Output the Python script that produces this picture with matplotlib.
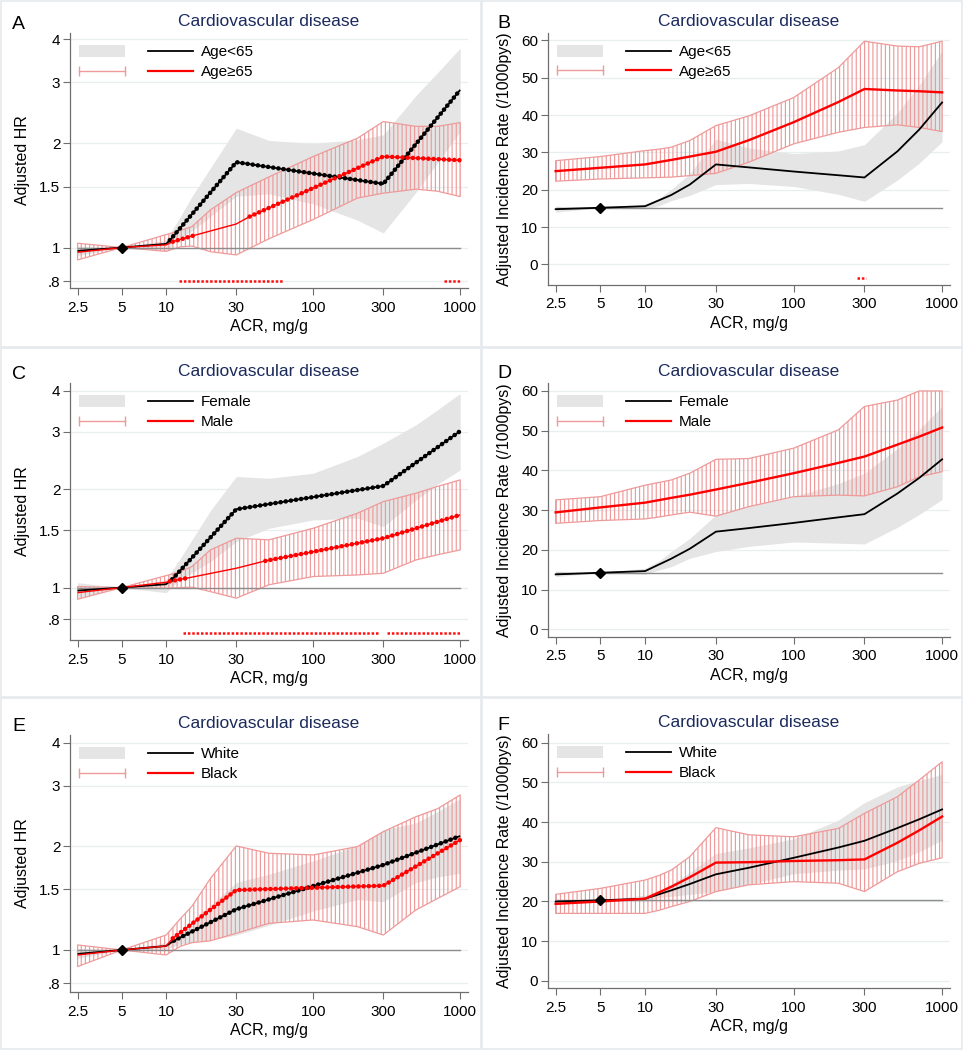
"""Six-panel ACR spline figure: adjusted HR and incidence rate by subgroup."""

import matplotlib

matplotlib.use("Agg")
import matplotlib.pyplot as plt
from matplotlib.legend_handler import HandlerLine2D
from matplotlib.lines import Line2D
from matplotlib.patches import Patch, Rectangle
from matplotlib.ticker import FixedFormatter, FixedLocator, NullLocator

plt.rcParams["font.family"] = ["Liberation Sans", "DejaVu Sans"]
plt.rcParams["hatch.linewidth"] = 0.85

# ---- axis ticks ----
acr_ticks = [2.5, 5, 10, 30, 100, 300, 1000]
acr_labels = ["2.5", "5", "10", "30", "100", "300", "1000"]
hr_ticks = [0.8, 1, 1.5, 2, 3, 4]
hr_labels = [".8", "1", "1.5", "2", "3", "4"]
ir_ticks = [0, 10, 20, 30, 40, 50, 60]

# ACR points where the confidence bands were read
band_acr = [2.5, 5, 10, 12.5, 15, 20, 30, 50, 100, 200, 300, 500, 700, 1000]
# ACR points where the incidence-rate curves were read
ir_acr = [2.5, 5, 10, 15, 20, 30, 50, 100, 200, 300, 500, 700, 1000]

# ---- A: HR by age ----
a_blk_acr = [2.5, 5, 10, 10.6, 30, 300, 1000]
a_blk_hr = [0.978, 1.0, 1.025, 1.05, 1.765, 1.528, 2.856]
a_blk_sig = [(3, 6)]
a_red_acr = [2.5, 5, 10, 11.1, 15.6, 30, 37, 300, 1000]
a_red_hr = [0.969, 1.0, 1.018, 1.04, 1.085, 1.17, 1.229, 1.833, 1.788]
a_red_sig = [(3, 4), (6, 8)]
a_gray_lo = [0.948, 1.0, 0.980, 1.07, 1.117, 1.229, 1.407, 1.43, 1.337, 1.20, 1.102, 1.444, 1.758, 2.165]
a_gray_hi = [1.009, 1.0, 1.052, 1.23, 1.405, 1.697, 2.213, 2.04, 2.0, 2.05, 2.117, 2.75, 3.2, 3.77]
a_pink_lo = [0.921, 1.0, 0.975, 1.005, 1.01, 0.973, 0.952, 1.06, 1.205, 1.39, 1.436, 1.475, 1.455, 1.404]
a_pink_hi = [1.029, 1.0, 1.09, 1.12, 1.15, 1.285, 1.442, 1.60, 1.833, 2.07, 2.313, 2.24, 2.24, 2.297]
a_sig_ranges = [(12.2, 62.4), (772, 1000)]
a_sig_level = 0.8

# ---- B: incidence rate by age ----
b_blk_ir = [14.8, 15.2, 15.6, 18.6, 21.4, 26.8, 26.0, 24.9, 23.9, 23.3, 30.3, 36.1, 43.4]
b_red_ir = [25.0, 25.9, 26.8, 28.0, 28.9, 30.2, 33.3, 38.1, 43.5, 47.0, 46.6, 46.4, 46.1]
b_gray_lo = [14.0, 15.2, 14.9, 15.8, 17.1, 18.5, 21.4, 21.7, 20.9, 18.8, 16.9, 22.6, 27.1, 32.9]
b_gray_hi = [15.6, 15.2, 16.2, 17.8, 20.1, 24.3, 33.6, 31.2, 29.7, 30.4, 32.1, 40.6, 48.0, 57.2]
b_pink_lo = [22.3, 22.9, 23.2, 23.3, 23.4, 23.8, 24.4, 27.4, 32.3, 35.4, 36.7, 37.4, 36.7, 35.6]
b_pink_hi = [27.8, 28.9, 30.5, 30.9, 31.4, 33.2, 37.2, 39.8, 44.7, 52.7, 59.8, 58.5, 58.3, 59.8]
b_ref = 15.2
b_sig_ranges = [(268, 305)]
b_sig_level = -3.5

# ---- C: HR by sex ----
c_blk_acr = [2.5, 5, 10, 11, 30, 300, 1000]
c_blk_hr = [0.979, 1.0, 1.024, 1.06, 1.737, 2.047, 3.014]
c_blk_sig = [(3, 6)]
c_red_acr = [2.5, 5, 10, 10.6, 14.5, 30, 47.3, 300, 1000]
c_red_hr = [0.965, 1.0, 1.038, 1.045, 1.073, 1.146, 1.207, 1.416, 1.669]
c_red_sig = [(3, 4), (6, 8)]
c_gray_lo = [0.93, 1.0, 0.965, 1.06, 1.11, 1.2, 1.383, 1.519, 1.611, 1.631, 1.537, 1.852, 2.07, 2.292]
c_gray_hi = [1.035, 1.0, 1.056, 1.23, 1.40, 1.72, 2.188, 2.161, 2.239, 2.519, 2.767, 3.149, 3.5, 3.93]
c_pink_lo = [0.921, 1.0, 0.995, 1.0, 1.003, 0.972, 0.928, 1.02, 1.081, 1.093, 1.106, 1.215, 1.26, 1.304]
c_pink_hi = [1.007, 1.0, 1.088, 1.12, 1.16, 1.304, 1.416, 1.40, 1.519, 1.689, 1.833, 1.945, 2.04, 2.136]
c_sig_ranges = [(13.1, 282), (318, 1000)]
c_sig_level = 0.728

# ---- D: incidence rate by sex ----
d_blk_ir = [13.85, 14.27, 14.68, 17.8, 20.3, 24.6, 25.5, 26.8, 28.2, 29.0, 34.2, 38.1, 42.8]
d_red_ir = [29.45, 30.7, 31.9, 33.1, 33.9, 35.2, 36.9, 39.3, 41.9, 43.5, 46.5, 48.5, 50.8]
d_gray_lo = [13.3, 14.27, 13.9, 15.0, 15.8, 17.9, 19.6, 20.9, 22.0, 21.7, 21.5, 25.7, 28.9, 32.7]
d_gray_hi = [14.7, 14.27, 15.4, 17.3, 19.6, 22.9, 28.8, 31.1, 33.4, 36.7, 39.3, 45.5, 50.3, 56.1]
d_pink_lo = [26.7, 27.4, 27.8, 28.3, 28.8, 29.5, 28.5, 30.9, 33.4, 33.8, 33.6, 35.9, 38.4, 39.7]
d_pink_hi = [32.6, 33.4, 36.3, 37.0, 37.6, 39.3, 42.8, 43.0, 45.6, 50.2, 56.1, 57.7, 60.0, 60.0]
d_ref = 14.27

# ---- E: HR by race ----
e_blk_acr = [2.5, 5, 10, 11.3, 30, 300, 1000]
e_blk_hr = [0.974, 1.0, 1.027, 1.064, 1.313, 1.766, 2.143]
e_blk_sig = [(3, 6)]
e_red_acr = [2.5, 5, 10, 11.1, 30, 300, 1000]
e_red_hr = [0.967, 1.0, 1.027, 1.081, 1.493, 1.537, 2.087]
e_red_sig = [(3, 6)]
e_gray_lo = [0.946, 1.0, 1.004, 1.04, 1.055, 1.07, 1.105, 1.18, 1.298, 1.40, 1.381, 1.57, 1.63, 1.67]
e_gray_hi = [1.011, 1.0, 1.05, 1.135, 1.21, 1.35, 1.569, 1.66, 1.814, 2.01, 2.23, 2.34, 2.52, 2.75]
e_pink_lo = [0.895, 1.0, 0.967, 1.025, 1.05, 1.063, 1.118, 1.195, 1.222, 1.169, 1.105, 1.307, 1.41, 1.527]
e_pink_hi = [1.034, 1.0, 1.105, 1.232, 1.34, 1.612, 2.005, 1.909, 1.888, 1.996, 2.206, 2.438, 2.57, 2.82]

# ---- F: incidence rate by race ----
f_blk_ir = [19.97, 20.3, 20.7, 22.8, 24.4, 26.85, 28.5, 31.0, 33.6, 35.3, 38.5, 40.7, 43.2]
f_red_ir = [19.4, 20.0, 20.7, 23.7, 26.1, 29.8, 29.9, 30.2, 30.4, 30.6, 34.8, 37.9, 41.4]
f_gray_lo = [19.4, 20.3, 20.1, 21.0, 21.3, 21.8, 22.5, 24.3, 27.0, 27.9, 28.2, 30.3, 32.5, 35.5]
f_gray_hi = [20.6, 20.3, 21.6, 22.7, 24.4, 27.3, 32.1, 33.5, 35.8, 40.5, 44.9, 48.9, 50.5, 52.0]
f_pink_lo = [17.0, 17.0, 17.0, 17.8, 18.7, 20.0, 22.5, 24.2, 25.0, 24.6, 22.5, 27.5, 29.6, 31.0]
f_pink_hi = [21.8, 23.3, 25.4, 26.6, 27.9, 31.3, 38.6, 36.8, 36.3, 38.4, 42.2, 46.4, 50.6, 55.2]
f_ref = 20.3

# ---- style ----
W, H = 963, 1050
GRAY_BAND = "#e5e5e5"
PINK = "#ee9a9a"
NAVY = "#1b2a5c"
GRID = "#e8eff1"
AXIS = "#6e6e6e"
REFLINE = "#8c8c8c"


def add_axes(fig, left, top, right, bottom):
    return fig.add_axes([left / W, 1 - bottom / H, (right - left) / W, (bottom - top) / H])


def style_axes(ax, hr, ylim, ylabel, ylabel_x):
    ax.set_xscale("log")
    if hr:
        ax.set_yscale("log")
    ax.set_xlim(2.22, 1130)
    ax.set_ylim(*ylim)
    ax.xaxis.set_major_locator(FixedLocator(acr_ticks))
    ax.xaxis.set_major_formatter(FixedFormatter(acr_labels))
    ax.xaxis.set_minor_locator(NullLocator())
    if hr:
        ax.yaxis.set_major_locator(FixedLocator(hr_ticks))
        ax.yaxis.set_major_formatter(FixedFormatter(hr_labels))
    else:
        ax.yaxis.set_major_locator(FixedLocator(ir_ticks))
        ax.yaxis.set_major_formatter(FixedFormatter([str(v) for v in ir_ticks]))
    ax.yaxis.set_minor_locator(NullLocator())
    for side in ("top", "right"):
        ax.spines[side].set_visible(False)
    for side in ("left", "bottom"):
        ax.spines[side].set_color(AXIS)
        ax.spines[side].set_linewidth(0.9)
    ax.tick_params(direction="out", length=5, width=0.8, color=AXIS, labelsize=11)
    ax.tick_params(axis="x", pad=4)
    ax.tick_params(axis="y", pad=2)
    ax.yaxis.grid(True, color=GRID, lw=0.9)
    ax.set_axisbelow(True)
    ax.set_xlabel("ACR, mg/g", fontsize=11.5, labelpad=3)
    ax.set_ylabel(ylabel, fontsize=11.5, va="center")
    ax.yaxis.set_label_coords(ylabel_x, 0.5)
    ax.set_title("Cardiovascular disease", fontsize=12.5, color=NAVY, pad=5)


def draw_bands(ax, gray_lo, gray_hi, pink_lo, pink_hi):
    ax.fill_between(band_acr, gray_lo, gray_hi, color=GRAY_BAND, lw=0, zorder=1)
    ax.fill_between(band_acr, pink_lo, pink_hi, facecolor="none", edgecolor=PINK,
                    hatch="||||", lw=0.9, zorder=2)


def draw_ref(ax, ref):
    ax.plot([acr_ticks[0], acr_ticks[-1]], [ref, ref], color=REFLINE, lw=1.0, zorder=3)
    ax.plot([5], [ref], marker="D", ms=4.8, color="black", zorder=7)


def draw_hr_curve(ax, acr, hr, sig, color, lw):
    ax.plot(acr, hr, color=color, lw=lw, zorder=4, solid_capstyle="butt")
    for i0, i1 in sig:
        ax.plot(acr[i0:i1 + 1], hr[i0:i1 + 1], color=color, lw=3.3,
                ls=(0, (0.01, 1.12)), dash_capstyle="round", zorder=5)


def draw_sig_row(ax, ranges, level):
    for x0, x1 in ranges:
        ax.plot([x0, x1], [level, level], color="#ff1010", lw=1.8,
                ls=(0, (1.0, 0.75)), dash_capstyle="butt", zorder=4)


def add_legend(ax, lab1, lab2):
    gray = Patch(facecolor=GRAY_BAND, edgecolor="none")
    cap = Line2D([], [], color=PINK, lw=1.0, marker="|", ms=7, mew=1.0)
    blk = Line2D([], [], color="black", lw=1.3)
    red = Line2D([], [], color="red", lw=1.6)
    ax.legend([gray, cap, blk, red], ["", "", lab1, lab2], ncol=2, loc="upper left",
              bbox_to_anchor=(0.022, 0.952), frameon=False, fontsize=11,
              handlelength=3.0, handleheight=0.8, handletextpad=0.5,
              columnspacing=1.0, labelspacing=0.37, borderpad=0, borderaxespad=0,
              handler_map={cap: HandlerLine2D(numpoints=2, marker_pad=0)})


def hr_panel(fig, box, ylim, blk, red, bands, sig_ranges, sig_level, labels):
    ax = add_axes(fig, *box)
    style_axes(ax, True, ylim, "Adjusted HR", -0.12)
    draw_bands(ax, *bands)
    draw_ref(ax, 1.0)
    draw_hr_curve(ax, blk[0], blk[1], blk[2], "black", 1.3)
    draw_hr_curve(ax, red[0], red[1], red[2], "red", 1.0)
    if sig_ranges:
        draw_sig_row(ax, sig_ranges, sig_level)
    add_legend(ax, *labels)
    return ax


def ir_panel(fig, box, ylim, blk_ir, red_ir, bands, ref, sig_ranges, sig_level, labels):
    ax = add_axes(fig, *box)
    style_axes(ax, False, ylim, "Adjusted Incidence Rate (/1000pys)", -0.107)
    draw_bands(ax, *bands)
    draw_ref(ax, ref)
    ax.plot(ir_acr, blk_ir, color="black", lw=1.3, zorder=4)
    ax.plot(ir_acr, red_ir, color="red", lw=1.7, zorder=5)
    if sig_ranges:
        draw_sig_row(ax, sig_ranges, sig_level)
    add_legend(ax, *labels)
    return ax


def main() -> None:
    fig = plt.figure(figsize=(W / 100, H / 100), dpi=100)

    # panel frames
    for (x0, y0, x1, y1) in [(1, 1, 481, 347), (482, 1, 962, 347),
                             (1, 348, 481, 697), (482, 348, 962, 697),
                             (1, 698, 481, 1049), (482, 698, 962, 1049)]:
        fig.add_artist(Rectangle((x0 / W, 1 - y1 / H), (x1 - x0) / W, (y1 - y0) / H,
                                 transform=fig.transFigure, facecolor="none",
                                 edgecolor="#e6eaee", lw=1.2))

    hr_panel(fig, (70, 33, 468, 288), (0.764, 4.17),
             (a_blk_acr, a_blk_hr, a_blk_sig), (a_red_acr, a_red_hr, a_red_sig),
             (a_gray_lo, a_gray_hi, a_pink_lo, a_pink_hi),
             a_sig_ranges, a_sig_level, ("Age<65", "Age≥65"))
    ir_panel(fig, (548, 33, 950, 285), (-5.5, 62.0), b_blk_ir, b_red_ir,
             (b_gray_lo, b_gray_hi, b_pink_lo, b_pink_hi), b_ref,
             b_sig_ranges, b_sig_level, ("Age<65", "Age≥65"))
    hr_panel(fig, (70, 383, 468, 640), (0.691, 4.23),
             (c_blk_acr, c_blk_hr, c_blk_sig), (c_red_acr, c_red_hr, c_red_sig),
             (c_gray_lo, c_gray_hi, c_pink_lo, c_pink_hi),
             c_sig_ranges, c_sig_level, ("Female", "Male"))
    ir_panel(fig, (548, 383, 950, 637), (-1.9, 62.0), d_blk_ir, d_red_ir,
             (d_gray_lo, d_gray_hi, d_pink_lo, d_pink_hi), d_ref,
             None, None, ("Female", "Male"))
    hr_panel(fig, (70, 735, 468, 992), (0.755, 4.21),
             (e_blk_acr, e_blk_hr, e_blk_sig), (e_red_acr, e_red_hr, e_red_sig),
             (e_gray_lo, e_gray_hi, e_pink_lo, e_pink_hi),
             None, None, ("White", "Black"))
    ir_panel(fig, (548, 734, 950, 988), (-1.8, 62.2), f_blk_ir, f_red_ir,
             (f_gray_lo, f_gray_hi, f_pink_lo, f_pink_hi), f_ref,
             None, None, ("White", "Black"))

    for letter, x, y in [("A", 12, 29), ("B", 497, 28), ("C", 12, 379),
                         ("D", 497, 378), ("E", 12, 731), ("F", 497, 730)]:
        fig.text(x / W, 1 - y / H, letter, fontsize=14, va="baseline", ha="left")

    fig.savefig("out.png", dpi=100)
    plt.close(fig)


if __name__ == "__main__":
    main()
